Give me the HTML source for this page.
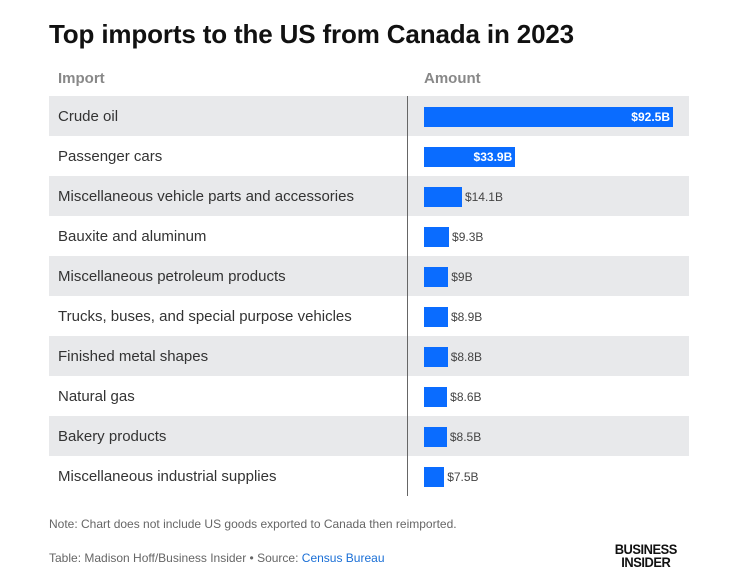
<!DOCTYPE html>
<html><head><meta charset="utf-8"><style>
body{margin:0;width:754px;height:588px;background:#fff;font-family:"Liberation Sans",sans-serif;position:relative;overflow:hidden}
.t{position:absolute;left:49px;top:19px;font-size:26px;font-weight:bold;color:#111;letter-spacing:-0.15px}
.h{position:absolute;top:70px;font-size:15px;font-weight:bold;color:#888}
.row{position:absolute;left:49px;width:640px;height:40px}
.lab{position:absolute;left:9px;top:12px;font-size:15px;color:#333}
.bar{position:absolute;left:375px;top:11px;height:20px;background:#0a6cff}
.val{position:absolute;top:14px;font-size:12px;color:#444}
.vin{color:#fff;font-weight:bold;text-align:right;padding-right:3px;box-sizing:border-box;line-height:20px;font-size:12px}
.div{position:absolute;left:407px;top:96px;width:1px;height:400px;background:#666}
.note{position:absolute;left:49px;font-size:12px;color:#666}
.bi{position:absolute;left:612px;top:543px;font-size:14px;font-weight:900;line-height:13px;color:#111;text-align:center;letter-spacing:-0.5px;transform:scaleX(0.92)}
</style></head><body>
<div class="t">Top imports to the US from Canada in 2023</div>
<div class="h" style="left:58px">Import</div>
<div class="h" style="left:424px">Amount</div>
<div id="rows"></div>
<div class="div"></div>
<div class="note" style="top:517px">Note: Chart does not include US goods exported to Canada then reimported.</div>
<div class="note" style="top:551px">Table: Madison Hoff/Business Insider • Source: <span style="color:#1a6fd6">Census Bureau</span></div>
<div class="bi">BUSINESS<br>INSIDER</div>
<script>
const categories=["Crude oil","Passenger cars","Miscellaneous vehicle parts and accessories","Bauxite and aluminum","Miscellaneous petroleum products","Trucks, buses, and special purpose vehicles","Finished metal shapes","Natural gas","Bakery products","Miscellaneous industrial supplies"];
const values=[92.5,33.9,14.1,9.3,9,8.9,8.8,8.6,8.5,7.5];
const labels=["$92.5B","$33.9B","$14.1B","$9.3B","$9B","$8.9B","$8.8B","$8.6B","$8.5B","$7.5B"];
const x=v=>v*249/92.5;
const c=document.getElementById('rows');
categories.forEach((cat,i)=>{
 const r=document.createElement('div');r.className='row';
 
 
 r.style.top=(96+i*40)+'px';r.style.background=i%2==0?'#e8e9eb':'#fff';
 const l=document.createElement('div');l.className='lab';l.textContent=cat;
 
 
 r.appendChild(l);
 const w=x(values[i]);
 const b=document.createElement('div');b.className='bar';b.style.width=w+'px';
 
 
 r.appendChild(b);
 if(w>60){b.classList.add('vin');b.textContent=labels[i];}
 else{const v=document.createElement('div');v.className='val';v.style.left=(375+w+3)+'px';v.textContent=labels[i];
 
 
 r.appendChild(v);}
 c.appendChild(r);
});
</script>
</body></html>
